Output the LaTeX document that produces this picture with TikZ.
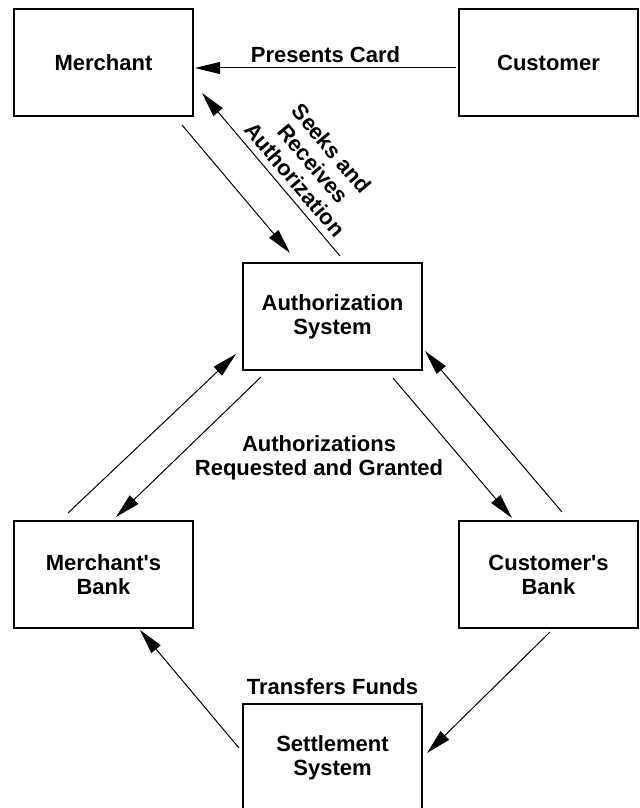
\documentclass[tikz,border=0pt]{standalone}
\usepackage{fontspec}
\setmainfont{Liberation Sans}
\usetikzlibrary{positioning,arrows.meta}

\begin{document}
\begin{tikzpicture}[every node/.style={font=\fontsize{11pt}{12pt}\selectfont\bfseries, align=center},
  box/.style={draw, rectangle, line width=0.7pt, outer sep=0pt, minimum width=89.5pt, minimum height=53.5pt},
  flow/.style={-{Triangle[length=12.5pt, width=6pt]}, line width=0.5pt}]
  \useasboundingbox (-51.75pt,31.25pt) rectangle (267.75pt,-372.75pt);
  \node[box] (merchant) at (0,0) {Merchant};
  \node[box, right=133pt of merchant] (customer) {Customer};
  \node[box, below right=73.5pt and 25pt of merchant] (auth) {Authorization\\System};
  \node[box, below=202.5pt of merchant] (mbank) {Merchant\textquotesingle s\\Bank};
  \node[box, below=202.5pt of customer] (cbank) {Customer\textquotesingle s\\Bank};
  \node[box, below=167pt of auth] (settle) {Settlement\\System};
  \node[below=29pt of auth, xshift=-6.75pt] (granted) {Authorizations\\Requested and Granted};
  \node[above=1pt of settle] (funds) {Transfers Funds};

  % card and authorization requests at the top
  \draw[flow] ([shift={(-1.5pt,-2.75pt)}]customer.west) -- node[above, inner sep=2.5pt] {Presents Card} ([shift={(1pt,-2.75pt)}]merchant.east);
  \draw[flow] ([shift={(-5.5pt,-4.5pt)}]merchant.south east) -- ([shift={(23.5pt,5pt)}]auth.north west);
  \draw[flow] ([shift={(3.75pt,3.5pt)}]auth.north) -- node[sloped, above, pos=0.41] {Seeks and\\Receives\\Authorization} ([shift={(4.5pt,11.5pt)}]merchant.south east);

  % banks talk to the authorization system
  \draw[flow] ([shift={(-17.75pt,4pt)}]mbank.north) -- ([shift={(-3.5pt,8pt)}]auth.south west);
  \draw[flow] ([shift={(9pt,-3.5pt)}]auth.south west) -- ([shift={(6.25pt,2pt)}]mbank.north);
  \draw[flow] ([shift={(-14.5pt,-4pt)}]auth.south east) -- ([shift={(-18.25pt,1.5pt)}]cbank.north);
  \draw[flow] ([shift={(6.75pt,4.5pt)}]cbank.north) -- ([shift={(1.5pt,9.5pt)}]auth.south east);

  % settlement
  \draw[flow] ([shift={(-2pt,4.75pt)}]settle.west) -- ([shift={(18.25pt,-1pt)}]mbank.south);
  \draw[flow] ([shift={(0.75pt,-2pt)}]cbank.south) -- ([shift={(2.5pt,2.25pt)}]settle.east);
\end{tikzpicture}
\end{document}
